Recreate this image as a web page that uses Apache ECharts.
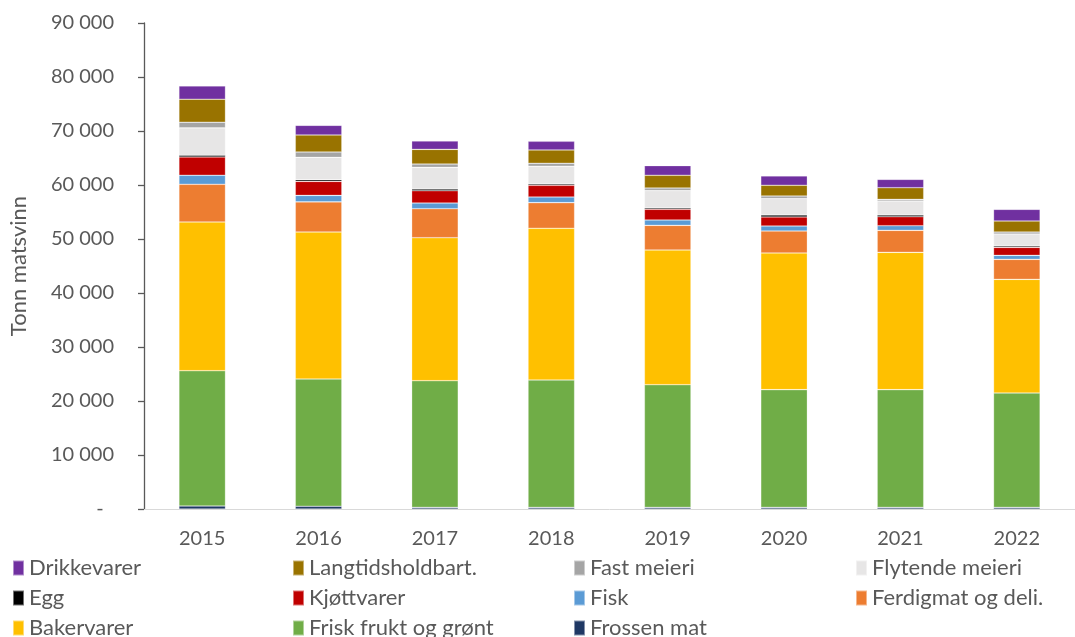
<!DOCTYPE html>
<html>
<head>
<meta charset="utf-8">
<script src="https://cdn.jsdelivr.net/npm/echarts@6/dist/echarts.min.js"></script>
<style>
html,body{margin:0;padding:0;background:#fff;}
#c{width:1075px;height:637px;}
</style>
</head>
<body>
<div id="c"></div>
<script>
// Categories (years)
const years = ['2015','2016','2017','2018','2019','2020','2021','2022'];

// Series values (tonn matsvinn), bottom to top of the stack
const frossenMat      = [550, 500, 300, 300, 300, 300, 300, 300];
const friskFrukt      = [25060, 23570, 23460, 23590, 22720, 21800, 21800, 21180];
const bakervarer      = [27540, 27220, 26480, 28090, 24940, 25310, 25430, 21050];
const ferdigmat       = [6980, 5590, 5370, 4750, 4570, 4070, 4070, 3700];
const fisk            = [1670, 1190, 1050, 1050, 990, 930, 860, 740];
const kjottvarer      = [3390, 2600, 2280, 2160, 1980, 1670, 1670, 1480];
const egg             = [320, 310, 310, 250, 250, 370, 310, 250];
const flytendeMeieri  = [5060, 4140, 4010, 3270, 3210, 3030, 2590, 2220];
const fastMeieri      = [1060, 990, 620, 560, 490, 490, 310, 370];
const langtid         = [4260, 3150, 2720, 2470, 2350, 1980, 2160, 2040];
const drikkevarer     = [2460, 1790, 1540, 1600, 1790, 1730, 1540, 2160];

// Y-axis ticks
const yTicks = [0, 10000, 20000, 30000, 40000, 50000, 60000, 70000, 80000, 90000];

const seriesDefs = [
  ['Frossen mat', frossenMat, '#1F3864'],
  ['Frisk frukt og grønt', friskFrukt, '#70AD47'],
  ['Bakervarer', bakervarer, '#FFC000'],
  ['Ferdigmat og deli.', ferdigmat, '#ED7D31'],
  ['Fisk', fisk, '#5B9BD5'],
  ['Kjøttvarer', kjottvarer, '#C00000'],
  ['Egg', egg, '#000000'],
  ['Flytende meieri', flytendeMeieri, '#E7E6E6'],
  ['Fast meieri', fastMeieri, '#A5A5A5'],
  ['Langtidsholdbart.', langtid, '#997300'],
  ['Drikkevarer', drikkevarer, '#7030A0']
];

const FONT = 'Lato';
const legendCols = [
  {left: 12,  names: ['Drikkevarer', 'Egg', 'Bakervarer']},
  {left: 292, names: ['Langtidsholdbart.', 'Kjøttvarer', 'Frisk frukt og grønt']},
  {left: 573, names: ['Fast meieri', 'Fisk', 'Frossen mat']},
  {left: 855, names: ['Flytende meieri', 'Ferdigmat og deli.']}
];

function fmt(v){
  if (v === 0) return '-  ';
  return String(v).replace(/\B(?=(\d{3})+(?!\d))/g, ' ');
}

const chart = echarts.init(document.getElementById('c'), null, {renderer: 'canvas'});
chart.setOption({
  animation: false,
  backgroundColor: '#ffffff',
  textStyle: {fontFamily: FONT},
  grid: {left: 143, right: -15, top: 23, bottom: 128, containLabel: false},
  legend: legendCols.map(c => ({
    orient: 'vertical',
    left: c.left,
    top: 557,
    height: 120,
    padding: 0,
    itemWidth: 11,
    itemHeight: 15,
    itemGap: 8,
    icon: 'rect',
    selectedMode: false,
    data: c.names,
    textStyle: {fontFamily: FONT, fontSize: 22, color: '#595959', lineHeight: 22, padding: [0,0,0,0]}
  })),
  xAxis: {
    type: 'category',
    data: years,
    axisLine: {show: true, lineStyle: {color: '#D9D9D9', width: 1}},
    axisTick: {show: false},
    axisLabel: {fontFamily: FONT, fontSize: 20, color: '#595959', margin: 20},
    splitLine: {show: false}
  },
  yAxis: {
    type: 'value',
    min: yTicks[0],
    max: yTicks[yTicks.length - 1],
    interval: yTicks[1] - yTicks[0],
    name: 'Tonn matsvinn',
    nameLocation: 'middle',
    nameGap: 114,
    nameTextStyle: {fontFamily: FONT, fontSize: 22, color: '#595959'},
    axisLine: {show: true, lineStyle: {color: '#595959', width: 1.3}},
    axisTick: {show: true, inside: false, length: 6, lineStyle: {color: '#595959', width: 1.3}},
    axisLabel: {fontFamily: FONT, fontSize: 20, color: '#595959', margin: 30, formatter: fmt},
    splitLine: {show: false}
  },
  series: seriesDefs.map(([name, data, color]) => ({
    name: name,
    type: 'bar',
    stack: 'total',
    data: data,
    barWidth: '40%',
    itemStyle: {color: color, borderColor: 'rgba(255,255,255,0.45)', borderWidth: 0.6},
    emphasis: {disabled: true}
  }))
});
</script>
</body>
</html>
